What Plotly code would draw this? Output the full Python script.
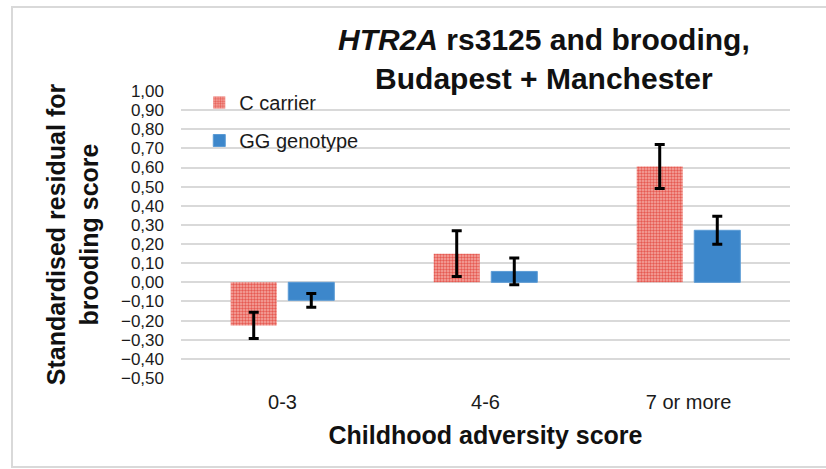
import plotly.graph_objects as go

# ---- data ----
categories = ["0-3", "4-6", "7 or more"]
series_names = ["C carrier", "GG genotype"]
c_carrier = [-0.225, 0.150, 0.605]
c_carrier_err = [0.068, 0.120, 0.115]
gg_genotype = [-0.094, 0.057, 0.272]
gg_genotype_err = [0.036, 0.070, 0.073]
y_ticks = [round(-0.5 + 0.1 * i, 2) for i in range(16)]

FONT = "Liberation Sans, Arial, sans-serif"
W, H = 826, 469
L, R, T, B = 181, 36, 91, 91
PW, PH = W - L - R, H - T - B


def px_x(x):
    return (x - L) / PW


def px_y(y):
    return (H - B - y) / PH


fig = go.Figure()
fig.add_trace(go.Bar(
    x=categories, y=c_carrier, name=series_names[0], legendgroup="a",
    marker=dict(color="#f4aaa5",
                pattern=dict(shape=".", fgcolor="#e65a52", bgcolor="#f5aaa4",
                             size=3, solidity=0.5, fillmode="replace"),
                line=dict(width=0)),
    error_y=dict(type="data", array=c_carrier_err, visible=True,
                 color="black", thickness=3, width=5),
))
fig.add_trace(go.Bar(
    x=categories, y=gg_genotype, name=series_names[1], legendgroup="b",
    marker=dict(color="#3d87cb", line=dict(color="#5b9bd5", width=1)),
    error_y=dict(type="data", array=gg_genotype_err, visible=True,
                 color="black", thickness=3, width=5),
))

fig.update_layout(
    width=W, height=H,
    margin=dict(l=L, r=R, t=T, b=B, pad=0),
    paper_bgcolor="white", plot_bgcolor="white",
    separators=", ",
    font=dict(family=FONT, color="#1a1a1a"),
    barmode="group", bargap=0.433, bargroupgap=0.2,
    showlegend=True,
    legend=dict(x=0.03, y=px_y(83), xanchor="left", yanchor="top",
                traceorder="grouped", tracegroupgap=9,
                font=dict(size=20, family=FONT, color="#1a1a1a"),
                bgcolor="rgba(0,0,0,0)"),
    xaxis=dict(showgrid=False, zeroline=False, showline=False, ticks="",
               tickfont=dict(size=20, family=FONT, color="#1a1a1a"),
               ticklabelstandoff=10,
               title=dict(text="<b>Childhood adversity score</b>",
                          font=dict(size=25, family=FONT, color="#111"),
                          standoff=14)),
    yaxis=dict(range=[-0.5, 1.0], tickvals=y_ticks, tickformat=".2f",
               showgrid=True, gridcolor="#d9d9d9", gridwidth=1.5,
               zeroline=False, showline=False, ticks="",
               tickfont=dict(size=17, family=FONT, color="#1a1a1a"),
               ticklabelstandoff=16,
               title=dict(text="<b>Standardised residual for<br>brooding score</b>",
                          font=dict(size=25, family=FONT, color="#111"),
                          standoff=15)),
    annotations=[
        dict(text="<b><i>HTR2A</i> rs3125 and brooding,<br>Budapest + Manchester</b>",
             xref="paper", yref="paper",
             x=px_x(544), y=px_y(59), xanchor="center", yanchor="middle",
             showarrow=False, font=dict(size=30, family=FONT, color="#111")),
    ],
    shapes=[dict(type="rect", xref="paper", yref="paper",
                 x0=px_x(12), x1=px_x(840), y0=px_y(467), y1=px_y(7),
                 line=dict(color="#d9d9d9", width=2), fillcolor="rgba(0,0,0,0)",
                 layer="below")],
)

fig.write_html("out.html", config={"displayModeBar": False},
               post_script="document.body.style.margin='0';")
